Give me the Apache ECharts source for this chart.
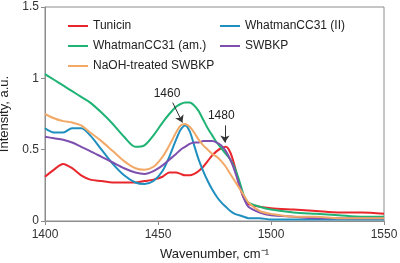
<!DOCTYPE html>
<html>
<head>
<meta charset="utf-8">
<script src="https://cdn.jsdelivr.net/npm/echarts@6/dist/echarts.min.js"></script>
<style>
  html, body { margin: 0; padding: 0; background: #fff; }
  #chart { width: 400px; height: 263px; }
</style>
</head>
<body>
<div id="chart"></div>
<script>
// wavenumbers (cm-1) shared by all spectra
const wavenumbers = [1400, 1404, 1408, 1412, 1416, 1420, 1425, 1430, 1435, 1440, 1444, 1448, 1452, 1455, 1458, 1460, 1462, 1464, 1466, 1468, 1470, 1472, 1474, 1476, 1478, 1480, 1482, 1484, 1486, 1488, 1490, 1495, 1500, 1510, 1520, 1530, 1540, 1550]

const tunicin = [0.31, 0.36, 0.40, 0.37, 0.32, 0.29, 0.28, 0.27, 0.27, 0.27, 0.28, 0.29, 0.31, 0.34, 0.34, 0.33, 0.32, 0.32, 0.33, 0.35, 0.38, 0.42, 0.46, 0.49, 0.51, 0.52, 0.48, 0.38, 0.25, 0.16, 0.12, 0.10, 0.09, 0.08, 0.07, 0.06, 0.06, 0.05]
const whatmanII = [0.65, 0.62, 0.62, 0.65, 0.65, 0.60, 0.50, 0.40, 0.32, 0.27, 0.26, 0.28, 0.35, 0.45, 0.57, 0.64, 0.67, 0.63, 0.53, 0.43, 0.35, 0.28, 0.22, 0.17, 0.13, 0.10, 0.07, 0.05, 0.04, 0.03, 0.02, 0.02, 0.01, 0.01, 0.01, 0.01, 0.01, 0.01]
const whatmanAm = [1.03, 0.99, 0.95, 0.91, 0.87, 0.83, 0.76, 0.68, 0.59, 0.52, 0.53, 0.60, 0.69, 0.75, 0.80, 0.82, 0.83, 0.83, 0.81, 0.77, 0.71, 0.65, 0.60, 0.55, 0.51, 0.47, 0.43, 0.37, 0.28, 0.18, 0.13, 0.10, 0.08, 0.06, 0.05, 0.04, 0.03, 0.03]
const swbkp = [0.59, 0.58, 0.57, 0.55, 0.52, 0.49, 0.45, 0.41, 0.37, 0.34, 0.33, 0.35, 0.39, 0.43, 0.47, 0.50, 0.52, 0.54, 0.55, 0.55, 0.56, 0.56, 0.56, 0.55, 0.53, 0.49, 0.43, 0.35, 0.25, 0.16, 0.10, 0.06, 0.04, 0.03, 0.02, 0.02, 0.02, 0.02]
const naohSwbkp = [0.75, 0.72, 0.70, 0.69, 0.67, 0.62, 0.56, 0.49, 0.42, 0.37, 0.36, 0.38, 0.45, 0.53, 0.62, 0.67, 0.68, 0.66, 0.62, 0.57, 0.53, 0.50, 0.47, 0.45, 0.42, 0.38, 0.33, 0.28, 0.23, 0.18, 0.13, 0.07, 0.05, 0.03, 0.03, 0.02, 0.02, 0.02]

const yTicks = [0, 0.5, 1, 1.5]

const font = 'Liberation Sans, Arial, sans-serif'
const chart = echarts.init(document.getElementById('chart'))

function pairs (ys) {
  return wavenumbers.map((x, i) => [x, ys[i]])
}

function line (name, color, ys, extra) {
  return Object.assign({
    name,
    type: 'line',
    smooth: 0.3,
    showSymbol: false,
    animation: false,
    lineStyle: { width: 2, color },
    itemStyle: { color },
    data: pairs(ys)
  }, extra || {})
}

// 峰值标注
const arrows = {
  markLine: {
    silent: true,
    symbol: ['none', 'arrow'],
    symbolSize: 7,
    label: { show: false },
    lineStyle: { color: '#333', width: 1, type: 'solid' },
    data: [
      [{ coord: [1456.5, 0.83] }, { coord: [1460.8, 0.69] }],
      [{ coord: [1479.6, 0.67] }, { coord: [1479.6, 0.55] }]
    ]
  },
  markPoint: {
    silent: true,
    symbolSize: 0,
    label: { show: true, color: '#222', fontFamily: font, fontSize: 12 },
    data: [
      { coord: [1454, 0.89], label: { formatter: '1460' } },
      { coord: [1478, 0.74], label: { formatter: '1480' } }
    ]
  }
}

const legendText = { fontFamily: font, fontSize: 12, color: '#222', lineHeight: 14 }

chart.setOption({
  backgroundColor: '#fff',
  grid: {
    left: 45,
    right: 16,
    top: 7,
    bottom: 42,
    outerBoundsMode: 'none',
    show: true,
    borderColor: '#8c8c8c',
    borderWidth: 1
  },
  legend: [
    {
      orient: 'vertical',
      left: 63,
      top: 14,
      itemWidth: 20,
      itemHeight: 2,
      itemGap: 6,
      icon: 'rect',
      textStyle: legendText,
      data: ['Tunicin', 'WhatmanCC31 (am.)', 'NaOH-treated SWBKP']
    },
    {
      orient: 'vertical',
      left: 215,
      top: 14,
      itemWidth: 20,
      itemHeight: 2,
      itemGap: 6,
      icon: 'rect',
      textStyle: legendText,
      data: ['WhatmanCC31 (II)', 'SWBKP']
    }
  ],
  xAxis: {
    type: 'value',
    min: 1400,
    max: 1550,
    interval: 50,
    name: 'Wavenumber, cm\u207B\u00B9',
    nameLocation: 'middle',
    nameGap: 27,
    nameTextStyle: { fontFamily: font, fontSize: 13, color: '#222' },
    axisLine: { lineStyle: { color: '#8c8c8c' } },
    axisTick: { length: 4, lineStyle: { color: '#8c8c8c' } },
    axisLabel: { fontFamily: font, fontSize: 12, color: '#333', margin: 8, formatter: v => String(v) },
    splitLine: { show: false }
  },
  yAxis: {
    type: 'value',
    min: yTicks[0],
    max: yTicks[yTicks.length - 1],
    interval: 0.5,
    name: 'Intensity, a.u.',
    nameLocation: 'middle',
    nameGap: 32,
    nameTextStyle: { fontFamily: font, fontSize: 13, color: '#222' },
    axisLine: { show: true, lineStyle: { color: '#8c8c8c' } },
    axisTick: { show: true, length: 4, lineStyle: { color: '#8c8c8c' } },
    axisLabel: { fontFamily: font, fontSize: 12, color: '#333', margin: 6 },
    splitLine: { show: false }
  },
  series: [
    line('Tunicin', '#e8262b', tunicin),
    line('WhatmanCC31 (II)', '#1f8fbf', whatmanII),
    line('WhatmanCC31 (am.)', '#1fb374', whatmanAm),
    line('SWBKP', '#7d4fae', swbkp),
    line('NaOH-treated SWBKP', '#f2a968', naohSwbkp, arrows)
  ]
})
</script>
</body>
</html>
